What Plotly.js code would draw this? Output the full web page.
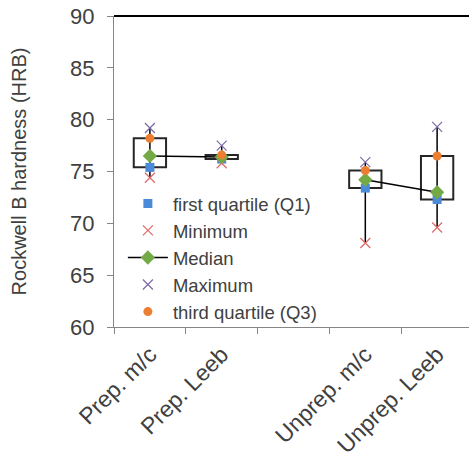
<!DOCTYPE html>
<html>
<head>
<meta charset="utf-8">
<script src="https://cdn.plot.ly/plotly-3.0.1.min.js"></script>
<style>html,body{margin:0;padding:0;background:#fff;}#chart{width:469px;height:459px;}</style>
</head>
<body>
<div id="chart"></div>
<script>
// Categories (index 2 is an empty spacer category)
const categories = ['Prep. m/c', 'Prep. Leeb', '', 'Unprep. m/c', 'Unprep. Leeb'];
const q1      = [75.4, 76.2, null, 73.4, 72.3];
const minimum = [74.4, 75.8, null, 68.1, 69.6];
const median  = [76.5, 76.4, null, 74.2, 73.0];
const maximum = [79.2, 77.5, null, 75.9, 79.3];
const q3      = [78.2, 76.6, null, 75.1, 76.5];

const xs = categories.map((c, i) => i);
const filled = xs.filter(i => q1[i] !== null);

// Box (Q1..Q3) as floating bars
const boxTrace = {
  type: 'bar',
  x: filled,
  base: filled.map(i => q1[i]),
  y: filled.map(i => q3[i] - q1[i]),
  width: 0.45,
  marker: {color: 'rgba(0,0,0,0)', line: {color: '#262626', width: 2}},
  showlegend: false, hoverinfo: 'skip'
};

// Whiskers min..max
const wx = [], wy = [];
filled.forEach(i => { wx.push(i, i, null); wy.push(minimum[i], maximum[i], null); });
const whiskers = {
  type: 'scatter', mode: 'lines', x: wx, y: wy,
  line: {color: '#000', width: 1.5}, showlegend: false, hoverinfo: 'skip'
};

const mk = (name, y, marker, extra) => Object.assign({
  type: 'scatter', mode: 'markers', name: name, x: xs, y: y, marker: marker
}, extra || {});

const traces = [
  boxTrace, whiskers,
  mk('first quartile (Q1)', q1, {symbol: 'square', size: 9, color: '#4a8ad8'}),
  mk('Minimum', minimum, {symbol: 'x-thin', size: 10, line: {color: '#e06868', width: 1.2}, color: '#e06868'}),
  mk('Median', median, {symbol: 'diamond', size: 11, color: '#74aa45'},
     {mode: 'lines+markers', line: {color: '#000', width: 1.5}, connectgaps: false}),
  mk('Maximum', maximum, {symbol: 'x-thin', size: 10, line: {color: '#7a6aa8', width: 1.2}, color: '#7a6aa8'}),
  mk('third quartile (Q3)', q3, {symbol: 'circle', size: 9, color: '#ed7d31'})
];

const layout = {
  width: 469, height: 459,
  margin: {l: 114, r: 0, t: 16, b: 132},
  paper_bgcolor: '#fff', plot_bgcolor: '#fff',
  font: {family: 'Liberation Sans, Arial, sans-serif', color: '#404040'},
  barmode: 'overlay',
  showlegend: true,
  legend: {
    x: 0.025, y: 0.457, xanchor: 'left', yanchor: 'top',
    bgcolor: 'rgba(0,0,0,0)', font: {size: 18.5, color: '#404040'},
    tracegroupgap: 0, itemwidth: 40
  },
  xaxis: {
    range: [-0.5, 4.444],
    tickmode: 'array', tickvals: xs.filter(i => categories[i] !== ''),
    ticktext: categories.filter(c => c !== ''),
    tickangle: -45, ticks: '', ticklabelstandoff: 4,
    showline: true, linecolor: '#868686', linewidth: 1,
    showgrid: false, zeroline: false,
    tickfont: {size: 23, color: '#404040'},
    minor: {tickmode: 'array', tickvals: [-0.5, 0.5, 1.5, 2.5, 3.5, 4.5], ticks: 'outside', ticklen: 6, tickcolor: '#868686', showgrid: false}
  },
  yaxis: {
    range: [60, 90], dtick: 5, ticks: 'outside', ticklen: 6, tickcolor: '#868686',
    ticklabelstandoff: 8,
    showline: true, linecolor: '#868686', linewidth: 1, showgrid: false, zeroline: false,
    tickfont: {size: 22, color: '#404040'},
    title: {text: 'Rockwell B hardness (HRB)', font: {size: 20, color: '#404040'}, standoff: 38}
  },
  shapes: [{type: 'line', xref: 'paper', yref: 'paper', x0: 0, x1: 1, y0: 1, y1: 1, line: {color: '#000', width: 2}}]
};

Plotly.newPlot('chart', traces, layout, {displayModeBar: false, staticPlot: true});
</script>
</body>
</html>
